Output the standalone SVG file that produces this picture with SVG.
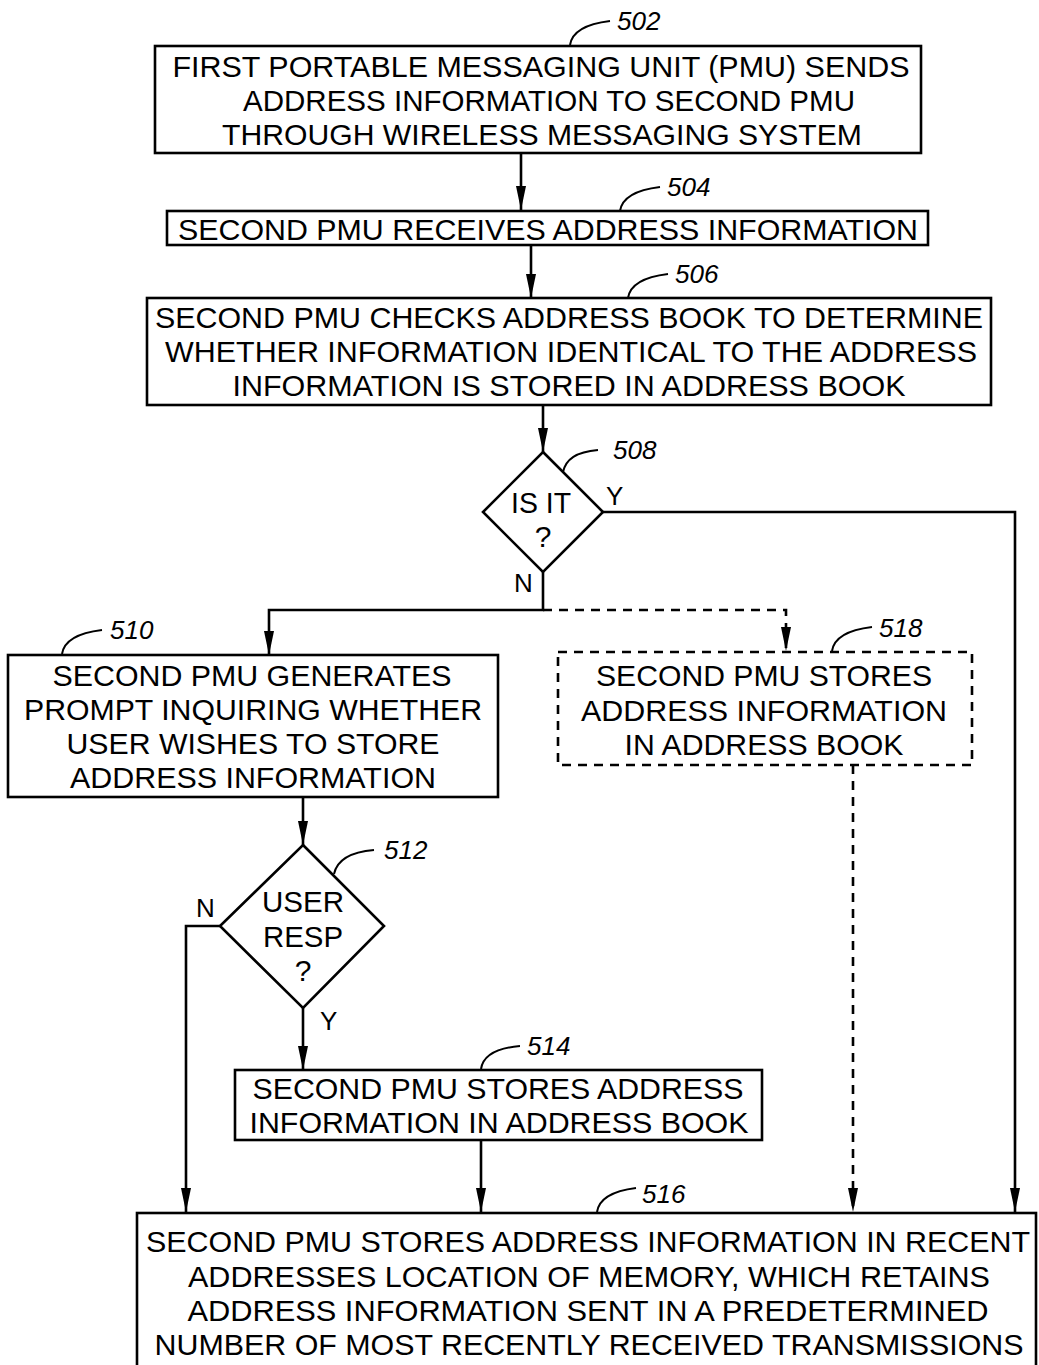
<svg xmlns="http://www.w3.org/2000/svg" width="1039" height="1365" viewBox="0 0 1039 1365">
<defs>
<marker id="ah" viewBox="0 0 24 10" refX="24" refY="5" markerWidth="24" markerHeight="10" markerUnits="userSpaceOnUse" orient="auto">
<path d="M0,0 L24,5 L0,10 Z" fill="#000"/>
</marker>
<style>
.box{fill:#fff;stroke:#000;stroke-width:2.6}
.dbox{fill:#fff;stroke:#000;stroke-width:2.6;stroke-dasharray:9,7}
.t{font-family:"Liberation Sans",Arial,sans-serif;font-size:30px;fill:#000;text-anchor:middle}
.ref{font-family:"Liberation Sans",Arial,sans-serif;font-size:26px;font-style:italic;fill:#000}
.lbl{font-family:"Liberation Sans",Arial,sans-serif;font-size:26px;fill:#000}
.ln{fill:none;stroke:#000;stroke-width:2.6}
.dl{fill:none;stroke:#000;stroke-width:2.6;stroke-dasharray:9,7}
.ld{fill:none;stroke:#000;stroke-width:2}
</style>
</defs>
<rect width="1039" height="1365" fill="#fff"/>

<g id="connectors">
<line class="ln" x1="521" y1="153" x2="521" y2="210" marker-end="url(#ah)"/>
<line class="ln" x1="531" y1="245" x2="531" y2="298" marker-end="url(#ah)"/>
<line class="ln" x1="543" y1="405" x2="543" y2="452" marker-end="url(#ah)"/>
<polyline class="ln" points="603,512 1015,512 1015,1212" marker-end="url(#ah)"/>
<polyline class="ln" points="543,572 543,610 269,610 269,655" marker-end="url(#ah)"/>
<polyline class="dl" points="543,610 786,610 786,651" marker-end="url(#ah)"/>
<line class="dl" x1="853" y1="765" x2="853" y2="1212" marker-end="url(#ah)"/>
<line class="ln" x1="303" y1="797" x2="303" y2="845" marker-end="url(#ah)"/>
<polyline class="ln" points="220,926 186,926 186,1212" marker-end="url(#ah)"/>
<line class="ln" x1="303" y1="1008" x2="303" y2="1070" marker-end="url(#ah)"/>
<line class="ln" x1="481" y1="1140" x2="481" y2="1212" marker-end="url(#ah)"/>
<text class="lbl" x="606" y="505">Y</text>
<text class="lbl" x="514" y="592">N</text>
<text class="lbl" x="196" y="917">N</text>
<text class="lbl" x="320" y="1030">Y</text>
</g>

<g id="n502">
<rect class="box" x="155" y="46" width="766" height="107"/>
<text class="t" x="541" y="77" textLength="737" lengthAdjust="spacingAndGlyphs">FIRST PORTABLE MESSAGING UNIT (PMU) SENDS</text>
<text class="t" x="549" y="111" textLength="612" lengthAdjust="spacingAndGlyphs">ADDRESS INFORMATION TO SECOND PMU</text>
<text class="t" x="542" y="145" textLength="640" lengthAdjust="spacingAndGlyphs">THROUGH WIRELESS MESSAGING SYSTEM</text>
<path class="ld" d="M570,45 C572,32 585,24 610,21"/>
<text class="ref" x="617" y="30">502</text>
</g>

<g id="n504">
<rect class="box" x="167" y="211" width="761" height="34"/>
<text class="t" x="548" y="240" textLength="740" lengthAdjust="spacingAndGlyphs">SECOND PMU RECEIVES ADDRESS INFORMATION</text>
<path class="ld" d="M620,211 C622,198 635,190 660,187"/>
<text class="ref" x="667" y="196">504</text>
</g>

<g id="n506">
<rect class="box" x="147" y="298" width="844" height="107"/>
<text class="t" x="569" y="328" textLength="828" lengthAdjust="spacingAndGlyphs">SECOND PMU CHECKS ADDRESS BOOK TO DETERMINE</text>
<text class="t" x="571" y="362" textLength="812" lengthAdjust="spacingAndGlyphs">WHETHER INFORMATION IDENTICAL TO THE ADDRESS</text>
<text class="t" x="569" y="396" textLength="673" lengthAdjust="spacingAndGlyphs">INFORMATION IS STORED IN ADDRESS BOOK</text>
<path class="ld" d="M628,298 C630,285 643,277 668,274"/>
<text class="ref" x="675" y="283">506</text>
</g>

<g id="n508">
<polygon class="box" points="543,452 603,512 543,572 483,512"/>
<text class="t" x="541" y="513" textLength="60" lengthAdjust="spacingAndGlyphs">IS IT</text>
<text class="t" x="543" y="547">?</text>
<path class="ld" d="M563,472 C566,459 576,452 598,450"/>
<text class="ref" x="613" y="459">508</text>
</g>

<g id="n510">
<rect class="box" x="8" y="655" width="490" height="142"/>
<text class="t" x="252" y="686" textLength="399" lengthAdjust="spacingAndGlyphs">SECOND PMU GENERATES</text>
<text class="t" x="253" y="720" textLength="458" lengthAdjust="spacingAndGlyphs">PROMPT INQUIRING WHETHER</text>
<text class="t" x="253" y="754" textLength="373" lengthAdjust="spacingAndGlyphs">USER WISHES TO STORE</text>
<text class="t" x="253" y="788" textLength="366" lengthAdjust="spacingAndGlyphs">ADDRESS INFORMATION</text>
<path class="ld" d="M62,654 C64,641 77,633 102,630"/>
<text class="ref" x="110" y="639">510</text>
</g>

<g id="n518">
<rect class="dbox" x="558" y="652" width="414" height="113"/>
<text class="t" x="764" y="686" textLength="336" lengthAdjust="spacingAndGlyphs">SECOND PMU STORES</text>
<text class="t" x="764" y="721" textLength="366" lengthAdjust="spacingAndGlyphs">ADDRESS INFORMATION</text>
<text class="t" x="764" y="755" textLength="279" lengthAdjust="spacingAndGlyphs">IN ADDRESS BOOK</text>
<path class="ld" d="M832,651 C834,638 847,630 872,627"/>
<text class="ref" x="879" y="637">518</text>
</g>

<g id="n512">
<polygon class="box" points="303,845 384,926 303,1008 220,926"/>
<text class="t" x="303" y="912" textLength="82" lengthAdjust="spacingAndGlyphs">USER</text>
<text class="t" x="303" y="947" textLength="80" lengthAdjust="spacingAndGlyphs">RESP</text>
<text class="t" x="303" y="981">?</text>
<path class="ld" d="M334,874 C337,860 350,852 374,850"/>
<text class="ref" x="384" y="859">512</text>
</g>

<g id="n514">
<rect class="box" x="235" y="1070" width="527" height="70"/>
<text class="t" x="498" y="1099" textLength="491" lengthAdjust="spacingAndGlyphs">SECOND PMU STORES ADDRESS</text>
<text class="t" x="499" y="1133" textLength="499" lengthAdjust="spacingAndGlyphs">INFORMATION IN ADDRESS BOOK</text>
<path class="ld" d="M481,1069 C483,1056 496,1048 520,1046"/>
<text class="ref" x="527" y="1055">514</text>
</g>

<g id="n516">
<rect class="box" x="137" y="1213" width="899" height="170"/>
<text class="t" x="588" y="1252" textLength="884" lengthAdjust="spacingAndGlyphs">SECOND PMU STORES ADDRESS INFORMATION IN RECENT</text>
<text class="t" x="589" y="1287" textLength="802" lengthAdjust="spacingAndGlyphs">ADDRESSES LOCATION OF MEMORY, WHICH RETAINS</text>
<text class="t" x="588" y="1321" textLength="801" lengthAdjust="spacingAndGlyphs">ADDRESS INFORMATION SENT IN  A PREDETERMINED</text>
<text class="t" x="589" y="1355" textLength="869" lengthAdjust="spacingAndGlyphs">NUMBER OF MOST RECENTLY RECEIVED TRANSMISSIONS</text>
<path class="ld" d="M597,1212 C599,1199 612,1191 636,1188"/>
<text class="ref" x="642" y="1203">516</text>
</g>
</svg>
